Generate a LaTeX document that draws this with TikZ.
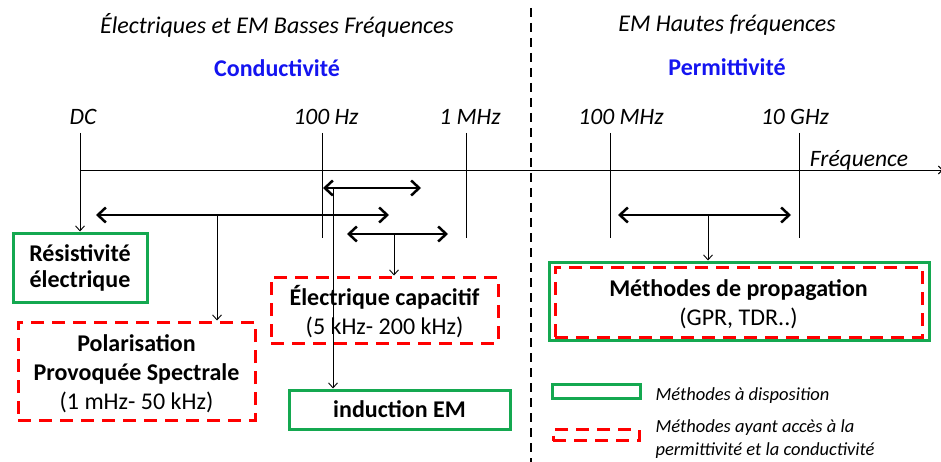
\documentclass[tikz,border=0pt]{standalone}
\usepackage{fontspec}
\setmainfont{Carlito}
\usetikzlibrary{arrows.meta}
\definecolor{mygreen}{RGB}{20,168,80}
\definecolor{myred}{RGB}{255,0,0}
\definecolor{myblue}{RGB}{20,20,240}
\tikzset{
  greenbox/.style={draw=mygreen,line width=3pt,inner sep=0pt,align=center},
  redbox/.style={draw=myred,line width=3pt,dash pattern=on 13pt off 8pt,inner sep=0pt,align=center},
  plainbox/.style={inner sep=0pt,align=center},
  dbl/.style={line width=2.5pt,{Straight Barb[length=8pt,width=15pt]}-{Straight Barb[length=8pt,width=15pt]}},
  conn/.style={line width=0.9pt,-{Straight Barb[length=5pt,width=9pt]}},
  tick/.style={line width=0.9pt},
  title/.style={font=\fontsize{24}{28}\selectfont\itshape},
  ptitle/.style={font=\fontsize{24}{27}\selectfont\bfseries,text=myblue},
  ticklab/.style={font=\fontsize{23.5}{26}\selectfont\itshape},
  boxtxt/.style={font=\fontsize{24}{29}\selectfont},
  legtxt/.style={font=\fontsize{18.5}{23}\selectfont\itshape,align=left,anchor=west}
}
\begin{document}
\begin{tikzpicture}[x=1pt,y=-1pt]
\useasboundingbox (0,0) rectangle (941,462);
% titles
\node[title] (t1) at (277,25) {Électriques et EM Basses Fréquences};
\node[ptitle] (p1) at (277,68) {Conductivité};
\node[title] (t2) at (727,25) {EM Hautes fréquences};
\node[ptitle] (p2) at (727,67) {Permittivité};
% separator
\coordinate (sepT) at (531,8);
\coordinate (sepB) at (531,462);
\draw[line width=2pt,dash pattern=on 9pt off 6pt] (sepT) -- (sepB);
% tick labels
\node[ticklab] (lDC) at (83,117) {DC};
\node[ticklab] (l100) at (326,117) {100 Hz};
\node[ticklab] (l1M) at (470,117) {1 MHz};
\node[ticklab] (l100M) at (621,117) {100 MHz};
\node[ticklab] (l10G) at (795,117) {10 GHz};
\node[ticklab] (lf) at (859,160) {Fréquence};
% axis
\coordinate (ax0) at (80,170);
\coordinate (ax1) at (943,170);
\draw[line width=0.9pt,-{Straight Barb[length=4pt,width=8pt]}] (ax0) -- (ax1);
% boxes
\node[greenbox,minimum width=134pt,minimum height=69pt,font=\fontsize{24}{26}\selectfont\bfseries] (res) at (80,267.5) {Résistivité\\électrique};
\node[redbox,minimum width=237pt,minimum height=98pt] (pps) at (136.5,371) {};
\node[plainbox,boxtxt] (ppst) at (136.5,374) {\textbf{Polarisation}\\\textbf{Provoquée Spectrale}\\(1 mHz- 50 kHz)};
\node[redbox,minimum width=227pt,minimum height=66pt] (cap) at (384.5,310) {};
\node[plainbox,boxtxt] (capt) at (384.5,312) {\textbf{Électrique capacitif}\\(5 kHz- 200 kHz)};
\node[greenbox,minimum width=221pt,minimum height=39pt,font=\fontsize{24}{26}\selectfont\bfseries] (ind) at (399.5,409.5) {induction EM};
\node[greenbox,minimum width=380pt,minimum height=78pt] (prop) at (739,301) {};
\node[redbox,minimum width=367pt,minimum height=70pt] (propi) at (738.5,302) {};
\node[plainbox,boxtxt] (propt) at (738.5,304) {\textbf{Méthodes de propagation}\\(GPR, TDR..)};
% ticks
\coordinate (tDC) at (80,133);
\coordinate (t100) at (322,133);
\coordinate (t100b) at (322,238);
\coordinate (t1M) at (466,133);
\coordinate (t1Mb) at (466,238);
\coordinate (t100M) at (610,133);
\coordinate (t100Mb) at (610,238);
\coordinate (t10G) at (799,133);
\coordinate (t10Gb) at (799,238);
\draw[tick] (t100) -- (t100b);
\draw[tick] (t1M) -- (t1Mb);
\draw[tick] (t100M) -- (t100Mb);
\draw[tick] (t10G) -- (t10Gb);
\draw[conn] (tDC) -- (res.north);
% double arrows
\coordinate (a1l) at (323,188); \coordinate (a1r) at (421,188);
\coordinate (a2l) at (96,215); \coordinate (a2r) at (389,215);
\coordinate (a3l) at (347,234); \coordinate (a3r) at (448,234);
\coordinate (a4l) at (618,215); \coordinate (a4r) at (791,215);
\draw[dbl] (a1l) -- (a1r);
\draw[dbl] (a2l) -- (a2r);
\draw[dbl] (a3l) -- (a3r);
\draw[dbl] (a4l) -- (a4r);
% connectors
\coordinate (c1) at (333,188);
\coordinate (c2) at (217,215);
\coordinate (c3) at (394,234);
\coordinate (c4) at (708,215);
\draw[conn] (c1) -- (c1 |- ind.north);
\draw[conn] (c2) -- (c2 |- pps.north);
\draw[conn] (c3) -- (c3 |- cap.north);
\draw[conn] (c4) -- (c4 |- prop.north);
% legend
\node[draw=mygreen,line width=3pt,minimum width=88pt,minimum height=14pt,inner sep=0pt] (lg1) at (596,391) {};
\node[legtxt] (lg1t) at (652,396) {Méthodes à disposition};
\node[draw=myred,line width=3pt,dash pattern=on 13pt off 8pt,minimum width=86pt,minimum height=11pt,inner sep=0pt] (lg2) at (596,435) {};
\node[legtxt] (lg2t) at (652,439) {Méthodes ayant accès à la\\permittivité et la conductivité};
\end{tikzpicture}
\end{document}
